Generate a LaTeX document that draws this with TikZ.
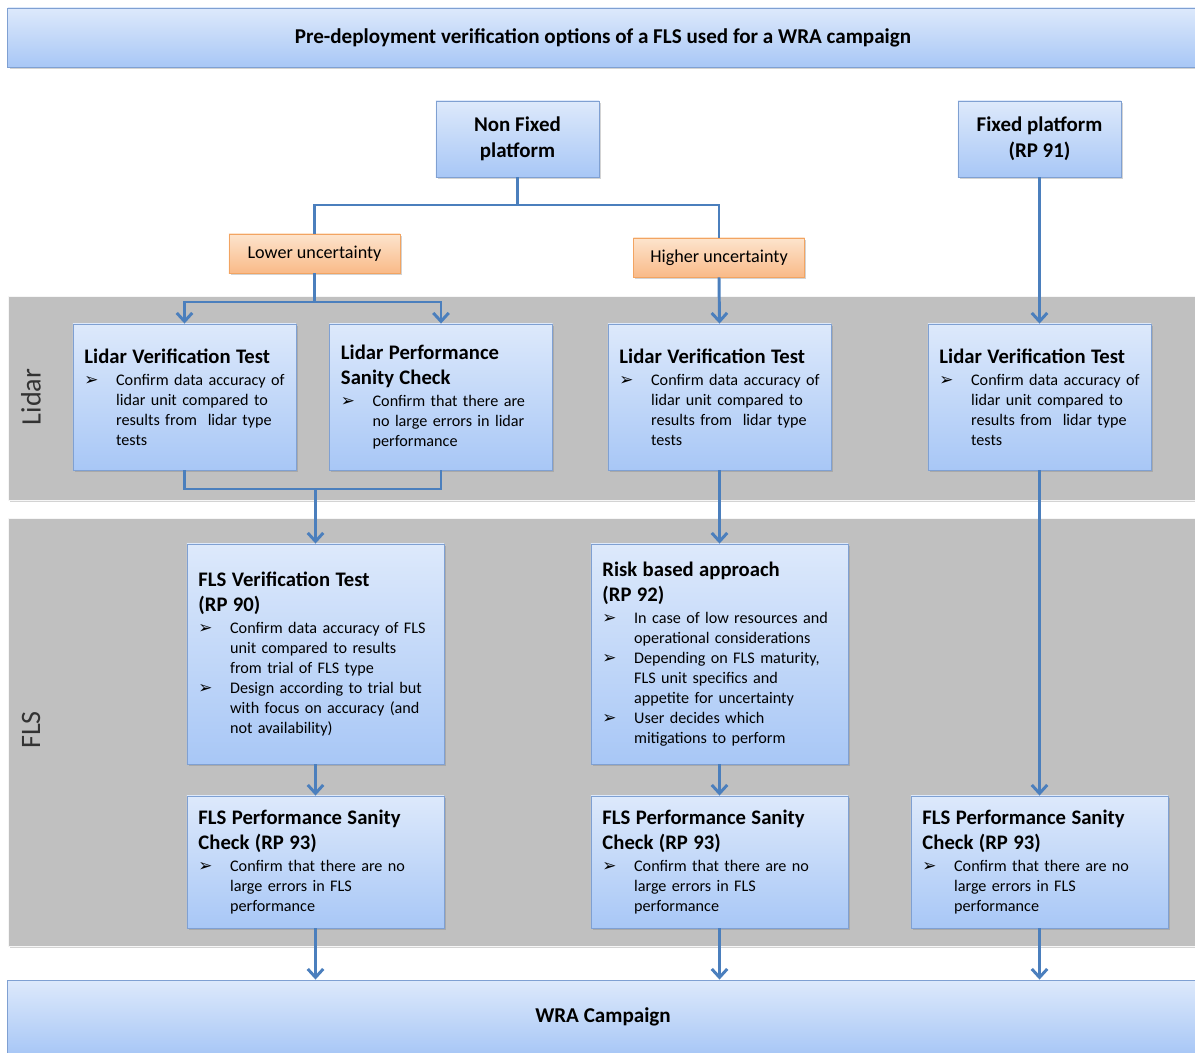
\documentclass[tikz,border=0pt]{standalone}
\usepackage{fontspec}
\setmainfont{Carlito}
\newfontfamily\bulletfont{DejaVu Sans}
\usetikzlibrary{arrows.meta,shadows}

\definecolor{boxtop}{HTML}{DDE9FB}
\definecolor{boxbot}{HTML}{A8C7F6}
\definecolor{boxedge}{HTML}{7FA0D2}
\definecolor{ortop}{HTML}{FDE4CD}
\definecolor{orbot}{HTML}{F9BA88}
\definecolor{oredge}{HTML}{F2A462}
\definecolor{band}{HTML}{C0C0C0}
\definecolor{flowblue}{HTML}{4B7FBD}

\newlength{\bulletind}
\setlength{\bulletind}{22.5pt}
\newcommand{\bodysize}{\fontsize{11.5}{14.2}\selectfont}
\newcommand{\headsize}{\fontsize{14.7}{17.9}\selectfont}
\newcommand{\bitem}[1]{\par\rightskip=-15pt plus 2em\relax
    \hangindent=\bulletind\hangafter=1\noindent
    \hbox to\bulletind{\bulletfont\fontsize{12}{10}\selectfont ➢\hfil}{\let\\\newline #1}\par}
\newcommand{\boxhead}[1]{\noindent{\headsize\bfseries #1\par}\vspace{1.5pt}}

\begin{document}
\begin{tikzpicture}[x=0.025cm, y=-0.025cm,
    bluebox/.style={draw=boxedge, line width=0.6pt, top color=boxtop, bottom color=boxbot,
        drop shadow={shadow xshift=1.2pt, shadow yshift=-1.5pt, opacity=0.35}, inner sep=0pt},
    infobox/.style={bluebox, minimum width=5.575cm, minimum height=3.65cm,
        text width=5.0cm, align=left, font=\bodysize},
    flsbox/.style={bluebox, minimum width=6.425cm, text width=5.85cm, align=left, font=\bodysize},
    platbox/.style={bluebox, minimum width=4.075cm, minimum height=1.9cm, align=center,
        font=\fontsize{14.9}{18.2}\selectfont\bfseries},
    orbox/.style={draw=oredge, line width=0.6pt, top color=ortop, bottom color=orbot,
        drop shadow={shadow xshift=1.2pt, shadow yshift=-1.5pt, opacity=0.35},
        minimum width=4.275cm, minimum height=0.975cm, inner sep=0pt, font=\fontsize{12.9}{15}\selectfont},
    wide/.style={bluebox, minimum width=29.75cm, font=\fontsize{15}{18}\selectfont\bfseries},
    layer/.style={fill=band, draw=white!85!band, line width=0.6pt,
        drop shadow={shadow xshift=1.2pt, shadow yshift=-1.5pt, opacity=0.35}},
    layerlabel/.style={rotate=90, text=black!80, font=\fontsize{20}{24}\selectfont},
    link/.style={draw=flowblue, line width=2.1pt},
    flow/.style={link, -{Straight Barb[length=6pt, width=11pt]}}
]
    \useasboundingbox (0,0) rectangle (1195,1052);

    \fill[layer] (8,296) rectangle (1199,500);
    \fill[layer] (8,518) rectangle (1199,946);
    \node[layerlabel] (lidarlab) at (31,397) {Lidar};
    \node[layerlabel] (flslab) at (31,730) {FLS};

    \node[wide, minimum height=1.475cm] (title) at (603,37.5) {Pre-deployment verification options of a FLS used for a WRA campaign};
    \node[wide, minimum height=1.85cm] (wra) at (603,1017) {WRA Campaign};

    \node[platbox] (nonfixed) at (517.5,139) {Non Fixed\\platform};
    \node[platbox] (fixed) at (1039.5,139) {Fixed platform\\(RP 91)};

    \node[orbox] (lower) at (314.5,253.5) {Lower uncertainty};
    \node[orbox] (higher) at (719,257.5) {Higher uncertainty};

    \node[infobox] (lvta) at (184.5,397) {\boxhead{Lidar Verification Test}
        \bitem{Confirm data accuracy of\\lidar unit compared to\\results from\ \ lidar type\\tests}};
    \node[infobox] (lpsc) at (441,397) {\boxhead{Lidar Performance\\Sanity Check}
        \bitem{Confirm that there are\\no large errors in lidar\\performance}};
    \node[infobox] (lvtb) at (719.5,397) {\boxhead{Lidar Verification Test}
        \bitem{Confirm data accuracy of\\lidar unit compared to\\results from\ \ lidar type\\tests}};
    \node[infobox] (lvtc) at (1039.5,397) {\boxhead{Lidar Verification Test}
        \bitem{Confirm data accuracy of\\lidar unit compared to\\results from\ \ lidar type\\tests}};

    \node[flsbox, minimum height=5.5cm] (flsvt) at (315.5,654) {\boxhead{FLS Verification Test\\(RP 90)}
        \bitem{Confirm data accuracy of FLS\\unit compared to results\\from trial of FLS type}
        \bitem{Design according to trial but\\with focus on accuracy (and\\not availability)}};
    \node[flsbox, minimum height=5.5cm] (risk) at (719.5,654) {\boxhead{Risk based approach\\(RP 92)}
        \bitem{In case of low resources and\\operational considerations}
        \bitem{Depending on FLS maturity,\\FLS unit specifics and\\appetite for uncertainty}
        \bitem{User decides which\\mitigations to perform}};

    \node[flsbox, minimum height=3.3cm] (psca) at (315.5,862) {\boxhead{FLS Performance Sanity\\Check (RP 93)}
        \bitem{Confirm that there are no\\large errors in FLS\\performance}};
    \node[flsbox, minimum height=3.3cm] (pscb) at (719.5,862) {\boxhead{FLS Performance Sanity\\Check (RP 93)}
        \bitem{Confirm that there are no\\large errors in FLS\\performance}};
    \node[flsbox, minimum height=3.3cm] (pscc) at (1039.5,862) {\boxhead{FLS Performance Sanity\\Check (RP 93)}
        \bitem{Confirm that there are no\\large errors in FLS\\performance}};

    \coordinate (split) at (517.5,205);
    \coordinate (lsplit) at (314.5,302);
    \coordinate (ljoin) at (315.5,489);

    \draw[link] (nonfixed.south) -- (split);
    \draw[link] (split) -| (lower.north);
    \draw[link] (split) -| (higher.north);

    \draw[link] (lower.south) -- (lsplit);
    \draw[flow] (lsplit) -| (lvta.north);
    \draw[flow] (lsplit) -| (lpsc.north);
    \draw[flow] (higher.south) -- (lvtb.north);
    \draw[flow] (fixed.south) -- (lvtc.north);

    \draw[link] (lvta.south) |- (ljoin) -| (lpsc.south);
    \draw[flow] (ljoin) -- (flsvt.north);
    \draw[flow] (lvtb.south) -- (risk.north);
    \draw[flow] (lvtc.south) -- (pscc.north);

    \draw[flow] (flsvt.south) -- (psca.north);
    \draw[flow] (risk.south) -- (pscb.north);

    \draw[flow] (psca.south) -- (psca.south |- wra.north);
    \draw[flow] (pscb.south) -- (pscb.south |- wra.north);
    \draw[flow] (pscc.south) -- (pscc.south |- wra.north);
\end{tikzpicture}
\end{document}
